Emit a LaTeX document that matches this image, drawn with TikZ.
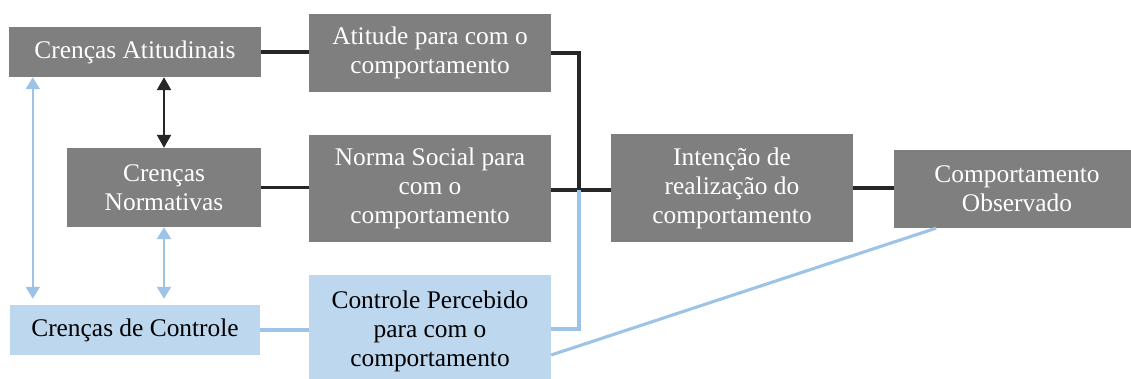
\documentclass[tikz,border=0pt]{standalone}
\usepackage{fontspec}
\setmainfont{Liberation Serif}
\usetikzlibrary{arrows.meta,calc}
\definecolor{boxgray}{HTML}{7F7F7F}
\definecolor{boxblue}{HTML}{BDD7EE}
\definecolor{lineblue}{HTML}{9DC3E6}
\definecolor{lineblack}{HTML}{262626}
\begin{document}
\begin{tikzpicture}[x=1pt,y=-1pt,
  boxbase/.style={inner sep=0pt, align=center, font=\fontsize{25.4}{29}\selectfont},
  graybox/.style={boxbase, fill=boxgray, text=white},
  bluebox/.style={boxbase, fill=boxblue, text=black},
  blk/.style={draw=lineblack, line width=3.3pt},
  blu/.style={draw=lineblue, line width=3.1pt},
  blkarrow/.style={blk, line width=2.3pt, {Triangle[width=14pt,length=13pt]}-{Triangle[width=14pt,length=13pt]}},
  bluarrow/.style={blu, line width=2.3pt, {Triangle[width=14pt,length=12pt]}-{Triangle[width=14pt,length=12pt]}}
]
\useasboundingbox (0,0) rectangle (1131,379);
\node[graybox, minimum width=252pt, minimum height=50pt] (ca) at (135,52) {Crenças Atitudinais};
\node[graybox, minimum width=242pt, minimum height=78pt] (at) at (430,53) {Atitude para com o\\comportamento};
\node[graybox, minimum width=194pt, minimum height=79pt] (cn) at (164,187.5) {Crenças\\Normativas};
\node[graybox, minimum width=242pt, minimum height=107pt] (ns) at (430,188.5) {Norma Social para\\com o\\comportamento};
\node[bluebox, minimum width=250pt, minimum height=50pt] (cc) at (135,330) {Crenças de Controle};
\node[bluebox, minimum width=242pt, minimum height=112pt] (cp) at (430,331) {Controle Percebido\\para com o\\comportamento};
\node[graybox, minimum width=242pt, minimum height=108pt] (in) at (732,188) {Intenção de\\realização do\\comportamento};
\node[graybox, minimum width=246pt, minimum height=78pt] (co) at (1017,189) {Comportamento\\Observado};
\coordinate (j) at (579,190);
\draw[blk] (ca.east) -- (ca.east -| at.west);
\draw[blk] (at.east) -| (j);
\draw[blk] (cn.east) -- (cn.east -| ns.west);
\draw[blk] (ns.east |- j) -- (in.west |- j);
\draw[blk] (in.east) -- (co.west |- in.east);
\draw[blu] (cc.east) -- (cc.east -| cp.west);
\draw[blu] ([yshift=2pt]cp.east) -| (j);
\draw[blu] ([xshift=-81pt]co.south) -- ([yshift=-24pt]cp.east);
\draw[blkarrow] (ca.south -| cn.north) -- (cn.north);
\draw[bluarrow] (cn.south) -- ([yshift=6pt]cn.south |- cc.north);
\draw[bluarrow] ([xshift=24pt]ca.south west) -- ([xshift=23pt,yshift=6pt]cc.north west);
\end{tikzpicture}
\end{document}
